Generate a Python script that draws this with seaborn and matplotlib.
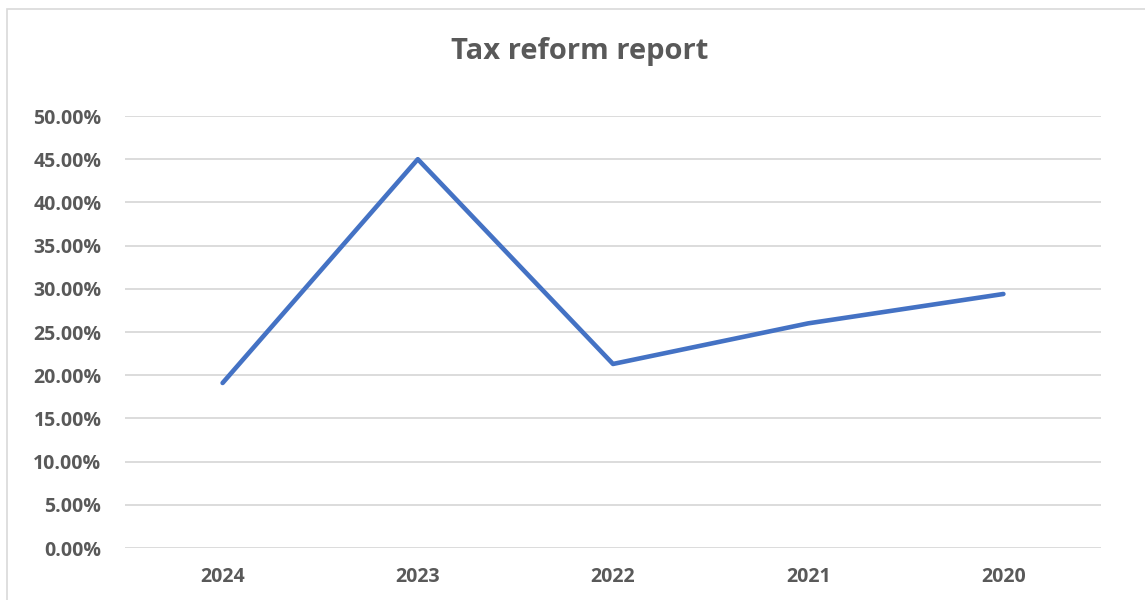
import matplotlib
matplotlib.use("Agg")
import matplotlib.pyplot as plt
import seaborn as sns
import pandas as pd
from matplotlib.ticker import FuncFormatter
from matplotlib.patches import Rectangle

years = ["2024", "2023", "2022", "2021", "2020"]
rates = [0.191, 0.450, 0.213, 0.260, 0.294]
title = "Tax reform report"

sns.set_theme(style="white")
plt.rcParams['font.family'] = ['Open Sans', 'DejaVu Sans']

df = pd.DataFrame({"year": years, "rate": rates})

fig = plt.figure(figsize=(11.45, 6.0), dpi=100)
W, H = 1145, 600
ax = fig.add_axes([125 / W, 52 / H, (1101 - 125) / W, (484 - 52) / H])

sns.lineplot(data=df, x="year", y="rate", ax=ax, color="#4472C4", linewidth=3.3, sort=False)

ax.set_xlim(-0.5, 4.5)
ax.set_ylim(0, 0.5)
ax.set_yticks([i * 0.05 for i in range(11)])
ax.yaxis.set_major_formatter(FuncFormatter(lambda v, p: f"{v*100:.2f}%"))
ax.grid(axis="y", color="#D9D9D9", linewidth=1.3)
ax.set_axisbelow(True)
for s in ax.spines.values():
    s.set_visible(False)
ax.tick_params(axis="both", length=0, labelsize=14, labelcolor="#595959")
ax.tick_params(axis="y", pad=17)
ax.tick_params(axis="x", pad=14)
for lbl in ax.get_xticklabels() + ax.get_yticklabels():
    lbl.set_fontweight("bold")
ax.set_xlabel("")
ax.set_ylabel("")

fig.text(580 / W, 1 - 52 / H, title, ha="center", va="center", fontsize=21,
         fontweight="bold", color="#595959")

fig.patches.append(Rectangle((7 / W, -0.1), 1.2, (H - 9) / H + 0.1, transform=fig.transFigure,
                             fill=False, edgecolor="#D9D9D9", linewidth=1.2))

fig.savefig("out.png", dpi=100)
